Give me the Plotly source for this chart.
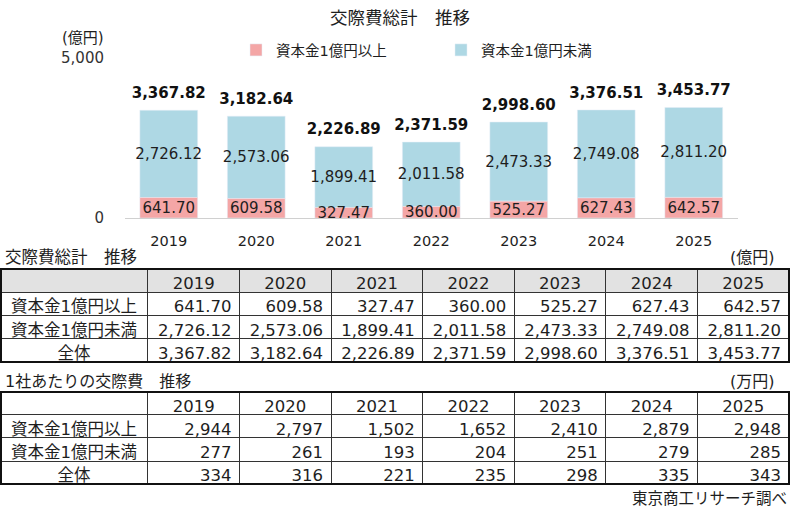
import plotly.graph_objects as go

years = ["2019", "2020", "2021", "2022", "2023", "2024", "2025"]
large_total = [641.70, 609.58, 327.47, 360.00, 525.27, 627.43, 642.57]
small_total = [2726.12, 2573.06, 1899.41, 2011.58, 2473.33, 2749.08, 2811.20]
all_total = [3367.82, 3182.64, 2226.89, 2371.59, 2998.60, 3376.51, 3453.77]

large_per = [2944, 2797, 1502, 1652, 2410, 2879, 2948]
small_per = [277, 261, 193, 204, 251, 279, 285]
all_per = [334, 316, 221, 235, 298, 335, 343]

row_labels = ["資本金1億円以上", "資本金1億円未満", "全体"]
legend_names = ["資本金1億円以上", "資本金1億円未満"]

FONT = "DejaVu Sans, Noto Sans CJK JP"
PINK = "#F4A6A6"
BLUE = "#AED8E4"
TXT = "#1e1e1e"
W, H = 800, 520

def py(px):
    return 1 - px / H

def px_x(px):
    return px / W

fig = go.Figure()

# upper segment (drawn first so the lower segment's labels stay on top)
fig.add_trace(go.Bar(
    x=years, y=small_total, base=large_total, name=legend_names[1], marker_color=BLUE,
    legendrank=2,
    text=[f"{v:,.2f}" for v in small_total], textposition="inside", textangle=0,
    insidetextanchor="middle", constraintext="none",
    textfont=dict(size=15, color=TXT, family=FONT),
))
fig.add_trace(go.Bar(
    x=years, y=large_total, name=legend_names[0], marker_color=PINK,
    legendrank=1,
    text=[f"{v:,.2f}" for v in large_total], textposition="inside", textangle=0,
    insidetextanchor="middle", constraintext="none",
    textfont=dict(size=15, color=TXT, family=FONT), cliponaxis=False,
))
fig.add_trace(go.Scatter(
    x=years, y=all_total, mode="markers+text", showlegend=False,
    marker=dict(size=12, color="rgba(0,0,0,0)"),
    text=[f"<b>{v:,.2f}</b>" for v in all_total], textposition="top center",
    textfont=dict(size=15, color="#111", family=FONT), hoverinfo="skip",
))

ncol = len(years)
colw = [148] + [91.6] * ncol
t1_cols = [row_labels] + [[f"{large_total[i]:,.2f}", f"{small_total[i]:,.2f}", f"{all_total[i]:,.2f}"] for i in range(ncol)]
t2_cols = [row_labels] + [[f"{large_per[i]:,d}", f"{small_per[i]:,d}", f"{all_per[i]:,d}"] for i in range(ncol)]
aligns = ["center"] + ["right"] * ncol
TFS = 16.5

fig.add_trace(go.Table(
    domain=dict(x=[0.0, px_x(789)], y=[py(368), py(269)]),
    columnwidth=colw,
    header=dict(values=[""] + years, fill_color="#E2E2E2", align="center",
                line=dict(color="#333", width=1), height=23,
                font=dict(size=TFS, color=TXT, family=FONT)),
    cells=dict(values=t1_cols, fill_color="white", align=aligns,
               line=dict(color="#333", width=1), height=23.3,
               font=dict(size=TFS, color=TXT, family=FONT)),
))
fig.add_trace(go.Table(
    domain=dict(x=[0.0, px_x(789)], y=[py(490), py(392)]),
    columnwidth=colw,
    header=dict(values=[""] + years, fill_color="white", align="center",
                line=dict(color="#333", width=1), height=22.5,
                font=dict(size=TFS, color=TXT, family=FONT)),
    cells=dict(values=t2_cols, fill_color="white", align=aligns,
               line=dict(color="#333", width=1), height=23.3,
               font=dict(size=TFS, color=TXT, family=FONT)),
))

def note(text, x, y, size=16, xanchor="center"):
    return dict(text=text, x=px_x(x), y=py(y), xref="paper", yref="paper",
                xanchor=xanchor, yanchor="middle", showarrow=False,
                font=dict(size=size, color=TXT, family=FONT))

fig.update_layout(
    width=W, height=H, margin=dict(l=0, r=0, t=0, b=0, autoexpand=False),
    paper_bgcolor="white", plot_bgcolor="white",
    barmode="overlay", bargap=0.34,
    font=dict(family=FONT, color=TXT),
    showlegend=True,
    legend=dict(orientation="h", x=px_x(236), y=py(50), xanchor="left", yanchor="middle",
                font=dict(size=14.5, color=TXT, family=FONT), entrywidth=160,
                traceorder="normal", bgcolor="rgba(0,0,0,0)"),
    xaxis=dict(domain=[px_x(125), px_x(737.5)], type="category", showline=False,
               automargin=False,
               tickfont=dict(size=14.5, color=TXT), ticks="", ticklabelstandoff=12),
    yaxis=dict(domain=[py(218), py(58)], range=[0, 5000], tickvals=[0, 5000],
               ticktext=["0", "5,000"], showgrid=True, gridcolor="#D9D9D9",
               automargin=False,
               zeroline=True, zerolinecolor="#D0D0D0", zerolinewidth=1,
               tickfont=dict(size=15, color="#333"), ticklabelstandoff=20),
    annotations=[
        note("交際費総計　推移", 400, 18, size=17.5),
        note("(億円)", 106, 38, size=15, xanchor="right"),
        note("交際費総計　推移", 3, 257, size=16.5, xanchor="left"),
        note("(億円)", 777, 257, size=16, xanchor="right"),
        note("1社あたりの交際費　推移", 3, 381, size=16, xanchor="left"),
        note("(万円)", 777, 381, size=16, xanchor="right"),
        note("東京商工リサーチ調べ", 789, 499, size=15.5, xanchor="right"),
    ],
    shapes=[
        dict(type="rect", xref="paper", yref="paper", x0=px_x(1), x1=px_x(789),
             y0=py(362), y1=py(269), line=dict(color="#111", width=2)),
        dict(type="rect", xref="paper", yref="paper", x0=px_x(1), x1=px_x(789),
             y0=py(484), y1=py(392), line=dict(color="#111", width=2)),
    ],
)

fig.write_html("out.html", config={"displayModeBar": False},
               post_script="document.body.style.margin='0';document.body.style.padding='0';")
